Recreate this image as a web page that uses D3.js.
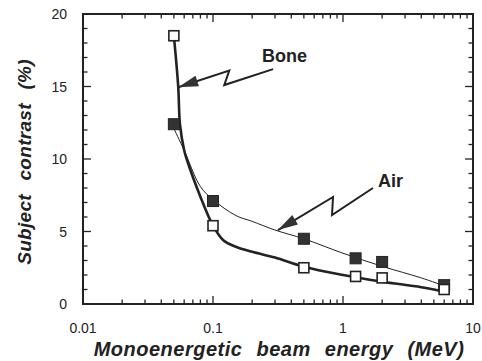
<!DOCTYPE html>
<html>
<head>
<meta charset="utf-8">
<script src="https://cdn.jsdelivr.net/npm/d3@7"></script>
<style>
  body { margin: 0; background: #fff; }
  svg text { font-family: Arial, "Liberation Sans", Helvetica, sans-serif; fill: #222; }
</style>
</head>
<body>
<figure id="chart" style="margin:0"></figure>
<script>
// measured points (MeV, %)
const energies = [0.05, 0.1, 0.5, 1.25, 2, 6];
const boneValues = [18.5, 5.4, 2.5, 1.9, 1.8, 1.0];
const airValues = [12.4, 7.1, 4.5, 3.15, 2.9, 1.3];

// fitted curves
const boneCurveX = [0.05, 0.054, 0.0557, 0.06, 0.0627, 0.08, 0.1, 0.12, 0.15, 0.2, 0.3, 0.5, 1, 2, 4, 6];
const boneCurveY = [18.5, 15, 12.4, 10.6, 10, 7.4, 5.4, 4.4, 3.95, 3.6, 3.2, 2.57, 2.0, 1.54, 1.16, 0.85];
const airCurveX = [0.05, 0.06, 0.08, 0.1, 0.15, 0.2, 0.3, 0.5, 1, 2, 4, 6];
const airCurveY = [12.1, 10.6, 8.1, 7.2, 6.1, 5.7, 5.1, 4.5, 3.5, 2.6, 1.8, 1.25];

const xTicks = [0.01, 0.1, 1, 10];
const xTickLabels = ["0.01", "0.1", "1", "10"];
const yTicks = [0, 5, 10, 15, 20];

// annotation callouts: label, label anchor, zigzag path (data coords)
const labels = ["Bone", "Air"];
const labelPos = [[0.238, 16.7], [1.86, 8.07]];
const arrowPaths = [
  [[0.29, 16.2], [0.122, 15.1], [0.1334, 16.1], [0.054, 14.95]],
  [[1.70, 8.0], [0.823, 6.14], [0.838, 7.38], [0.316, 5.1]]
];

const W = 482, H = 361;
const m = {left: 83, right: 9, top: 14, bottom: 57};
const w = W - m.left - m.right, h = H - m.top - m.bottom;

const svg = d3.select("figure#chart").append("svg")
  .attr("width", W).attr("height", H);
const g = svg.append("g").attr("transform", "translate(" + m.left + "," + m.top + ")");

const x = d3.scaleLog().domain([0.01, 10]).range([0, w]);
const y = d3.scaleLinear().domain([0, 20]).range([h, 0]);

// minor ticks
const xMinor = [];
[0.01, 0.1, 1].forEach(d => { for (let k = 2; k <= 9; k++) xMinor.push(d * k); });
const yMinor = d3.range(0, 21, 1).filter(v => v % 5 !== 0);

const ink = "#222";
const ticks = g.append("g").attr("stroke", ink).attr("stroke-width", 1.3);
// bottom & top
xTicks.forEach(v => {
  ticks.append("line").attr("x1", x(v)).attr("x2", x(v)).attr("y1", h).attr("y2", h - 8);
  ticks.append("line").attr("x1", x(v)).attr("x2", x(v)).attr("y1", 0).attr("y2", 8);
});
xMinor.forEach(v => {
  ticks.append("line").attr("x1", x(v)).attr("x2", x(v)).attr("y1", h).attr("y2", h - 4.5);
  ticks.append("line").attr("x1", x(v)).attr("x2", x(v)).attr("y1", 0).attr("y2", 4.5);
});
// left & right
yTicks.forEach(v => {
  ticks.append("line").attr("x1", 0).attr("x2", 8).attr("y1", y(v)).attr("y2", y(v));
  ticks.append("line").attr("x1", w).attr("x2", w - 8).attr("y1", y(v)).attr("y2", y(v));
});
yMinor.forEach(v => {
  ticks.append("line").attr("x1", 0).attr("x2", 4.5).attr("y1", y(v)).attr("y2", y(v));
  ticks.append("line").attr("x1", w).attr("x2", w - 4.5).attr("y1", y(v)).attr("y2", y(v));
});

g.append("rect").attr("width", w).attr("height", h)
  .attr("fill", "none").attr("stroke", ink).attr("stroke-width", 2);

// tick labels
g.selectAll(".xl").data(xTicks).enter().append("text")
  .attr("x", d => x(d)).attr("y", h + 29)
  .attr("text-anchor", "middle").attr("font-size", 14)
  .text((d, i) => xTickLabels[i]);
g.selectAll(".yl").data(yTicks).enter().append("text")
  .attr("x", -16).attr("y", d => y(d) + 5)
  .attr("text-anchor", "end").attr("font-size", 14)
  .text(d => d);

// axis titles
svg.append("text")
  .attr("x", 279).attr("y", 356)
  .attr("text-anchor", "middle").attr("font-size", 20)
  .attr("font-weight", "bold").attr("font-style", "italic")
  .attr("letter-spacing", 0.5).attr("word-spacing", 8)
  .text("Monoenergetic beam energy (MeV)");
svg.append("text")
  .attr("transform", "translate(31,162) rotate(-90)")
  .attr("text-anchor", "middle").attr("font-size", 19)
  .attr("font-weight", "bold").attr("font-style", "italic")
  .attr("letter-spacing", 0.3).attr("word-spacing", 8)
  .text("Subject contrast (%)");

// curves
const line = d3.line().x(d => x(d[0])).y(d => y(d[1])).curve(d3.curveCatmullRom.alpha(0.5));
g.append("path").datum(airCurveX.map((v, i) => [v, airCurveY[i]]))
  .attr("d", line).attr("fill", "none").attr("stroke", ink).attr("stroke-width", 1);
g.append("path").datum(boneCurveX.map((v, i) => [v, boneCurveY[i]]))
  .attr("d", line).attr("fill", "none").attr("stroke", ink).attr("stroke-width", 2.6);

// markers
const s = 11;
g.selectAll(".air").data(energies).enter().append("rect")
  .attr("x", d => x(d) - s / 2).attr("y", (d, i) => y(airValues[i]) - s / 2)
  .attr("width", s).attr("height", s)
  .attr("fill", "#333").attr("stroke", ink).attr("stroke-width", 1);
g.selectAll(".bone").data(energies).enter().append("rect")
  .attr("x", d => x(d) - s / 2 + 0.5).attr("y", (d, i) => y(boneValues[i]) - s / 2 + 0.5)
  .attr("width", s - 1).attr("height", s - 1)
  .attr("fill", "#fff").attr("stroke", ink).attr("stroke-width", 1.6);

// callouts
labels.forEach((t, i) => {
  g.append("text").attr("x", x(labelPos[i][0])).attr("y", y(labelPos[i][1]))
    .attr("font-size", 18).attr("font-weight", "bold").text(t);
  const pts = arrowPaths[i].map(p => [x(p[0]), y(p[1])]);
  g.append("path").attr("d", d3.line()(pts))
    .attr("fill", "none").attr("stroke", ink).attr("stroke-width", 2);
  const tip = pts[pts.length - 1], prev = pts[pts.length - 2];
  const a = Math.atan2(tip[1] - prev[1], tip[0] - prev[0]);
  const L = 20, Wd = 5.5;
  const bx = tip[0] - L * Math.cos(a), by = tip[1] - L * Math.sin(a);
  const head = [tip,
    [bx + Wd * Math.sin(a), by - Wd * Math.cos(a)],
    [bx - Wd * Math.sin(a), by + Wd * Math.cos(a)]];
  g.append("path").attr("d", d3.line()(head) + "Z").attr("fill", "#333");
});
</script>
</body>
</html>
